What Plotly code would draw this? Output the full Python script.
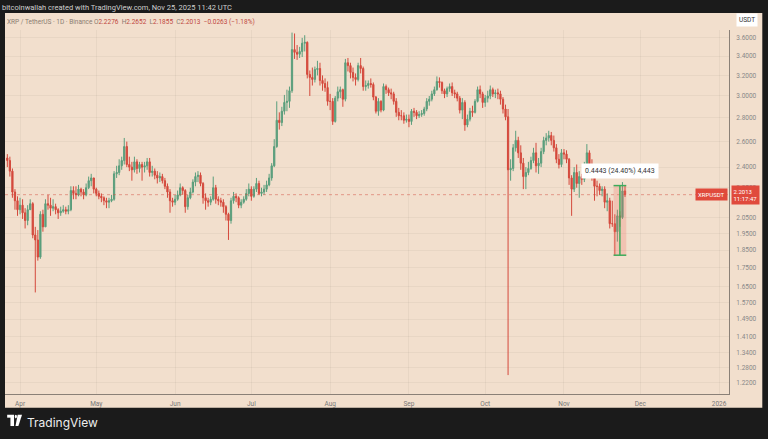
import plotly.graph_objects as go
import pandas as pd
import numpy as np

dates = pd.date_range("2025-03-27", "2025-11-25", freq="D")

closes = [2.45,2.37,2.22,2.16,2.10,
 2.13,2.08,2.03,2.10,2.14,1.94,1.91,1.81,2.07,1.99,2.14,2.13,2.11,2.12,2.10,2.08,2.09,2.10,2.09,2.10,2.23,2.21,2.20,2.24,2.22,2.20,2.25,2.30,2.32,2.24,
 2.21,2.19,2.18,2.16,2.15,2.16,2.17,2.35,2.36,2.41,2.45,2.56,2.42,2.40,2.38,2.44,2.39,2.42,2.40,2.41,2.44,2.36,2.37,2.34,2.32,2.33,2.30,2.26,2.22,2.16,2.15,
 2.17,2.20,2.25,2.23,2.12,2.18,2.22,2.29,2.33,2.34,2.28,2.18,2.16,2.15,2.17,2.25,2.17,2.16,2.15,2.12,2.07,2.03,2.16,2.19,2.18,2.13,2.15,2.17,2.21,2.24,
 2.19,2.24,2.28,2.21,2.22,2.24,2.27,2.32,2.41,2.56,2.78,2.76,2.86,2.94,2.95,3.05,3.47,3.44,3.42,3.45,3.54,3.55,3.21,3.18,3.16,3.26,3.27,3.15,3.12,3.08,2.95,
 2.95,2.77,2.98,3.04,3.06,2.97,3.33,3.30,3.23,3.18,3.16,3.30,3.27,3.09,3.10,3.12,3.11,2.99,2.86,2.95,2.87,3.09,3.06,3.03,3.02,2.95,2.85,2.82,2.82,2.78,2.79,
 2.77,2.86,2.85,2.82,2.83,2.84,2.88,2.95,2.97,3.02,3.06,3.14,3.13,3.05,3.02,3.07,3.09,3.03,3.02,2.98,2.87,2.94,2.74,2.79,2.86,2.85,2.95,3.06,3.02,2.94,
 2.98,3.00,3.06,3.02,3.03,3.02,2.97,2.88,2.81,2.38,2.39,2.55,2.61,2.51,2.43,2.33,2.36,2.39,2.45,2.51,2.41,2.43,2.52,2.61,2.63,2.65,2.61,2.55,2.46,2.42,2.51,
 2.50,2.46,2.32,2.24,2.36,2.28,2.33,2.31,2.40,2.51,2.41,2.33,2.26,2.26,2.23,2.24,2.15,2.16,2.01,2.01,1.96,2.06,2.05,2.2276,2.2013]

highs = [2.50,2.48,2.39,2.24,2.19,
 2.18,2.17,2.11,2.13,2.17,2.15,1.99,1.97,2.09,2.10,2.17,2.20,2.18,2.17,2.14,2.11,2.12,2.13,2.12,2.13,2.26,2.26,2.26,2.27,2.25,2.24,2.28,2.33,2.35,2.31,
 2.25,2.23,2.21,2.19,2.18,2.18,2.20,2.37,2.41,2.46,2.48,2.63,2.60,2.48,2.44,2.48,2.46,2.44,2.44,2.44,2.47,2.47,2.41,2.39,2.37,2.36,2.35,2.32,2.28,2.24,2.18,
 2.20,2.23,2.28,2.26,2.24,2.20,2.25,2.31,2.36,2.37,2.36,2.29,2.21,2.18,2.19,2.33,2.27,2.19,2.18,2.17,2.13,2.08,2.18,2.22,2.21,2.19,2.17,2.19,2.24,2.28,
 2.26,2.26,2.32,2.30,2.25,2.27,2.30,2.35,2.43,2.62,2.95,2.85,2.90,3.01,3.06,3.09,3.66,3.65,3.52,3.50,3.60,3.63,3.56,3.25,3.28,3.29,3.35,3.33,3.20,3.17,3.14,
 3.02,2.98,3.00,3.09,3.09,3.07,3.37,3.38,3.33,3.28,3.22,3.33,3.38,3.29,3.15,3.15,3.17,3.13,3.00,2.98,2.96,3.12,3.11,3.08,3.07,3.04,2.98,2.89,2.87,2.85,2.83,
 2.83,2.88,2.89,2.87,2.86,2.87,2.90,2.98,3.00,3.05,3.09,3.19,3.18,3.14,3.07,3.09,3.12,3.13,3.06,3.04,3.00,2.98,2.96,2.83,2.89,2.91,2.97,3.09,3.10,3.04,
 3.01,3.05,3.10,3.08,3.06,3.07,3.05,2.99,2.92,2.88,2.46,2.58,2.69,2.64,2.57,2.47,2.40,2.44,2.48,2.55,2.59,2.47,2.55,2.64,2.67,2.69,2.68,2.65,2.58,2.50,2.54,
 2.54,2.53,2.47,2.34,2.40,2.42,2.37,2.35,2.44,2.58,2.53,2.46,2.38,2.30,2.28,2.26,2.26,2.21,2.18,2.16,2.07,2.10,2.09,2.29,2.2652]

lows = [2.40,2.33,2.18,2.10,2.06,
 2.07,2.04,1.98,2.00,2.10,1.92,1.62,1.79,1.80,1.96,1.99,2.10,2.06,2.09,2.07,2.04,2.06,2.08,2.07,2.07,2.09,2.17,2.17,2.19,2.19,2.17,2.19,2.24,2.26,2.21,
 2.19,2.17,2.15,2.13,2.11,2.11,2.15,2.16,2.32,2.34,2.38,2.42,2.40,2.37,2.30,2.36,2.35,2.36,2.30,2.36,2.38,2.33,2.33,2.31,2.28,2.29,2.28,2.24,2.18,2.08,2.12,
 2.13,2.16,2.19,2.20,2.08,2.10,2.17,2.21,2.26,2.29,2.26,2.14,2.10,2.12,2.13,2.16,2.14,2.13,2.12,2.08,2.03,1.91,2.01,2.14,2.15,2.11,2.11,2.14,2.16,2.19,
 2.16,2.18,2.22,2.20,2.19,2.20,2.22,2.26,2.30,2.40,2.55,2.70,2.73,2.83,2.86,2.89,3.03,3.37,3.36,3.38,3.39,3.45,3.17,3.00,3.10,3.13,3.20,3.10,3.05,3.04,2.91,
 2.87,2.74,2.76,2.95,2.98,2.90,2.95,3.24,3.17,3.14,3.10,3.14,3.22,3.05,3.05,3.07,3.08,2.96,2.84,2.82,2.85,2.86,3.02,3.00,2.97,2.92,2.81,2.78,2.78,2.75,2.76,
 2.72,2.74,2.81,2.79,2.80,2.81,2.82,2.86,2.91,2.95,3.00,3.05,3.08,3.02,2.98,2.99,3.04,3.00,2.98,2.95,2.84,2.79,2.69,2.72,2.77,2.81,2.84,2.94,2.98,2.89,
 2.90,2.94,2.97,2.99,2.98,2.97,2.92,2.84,2.78,1.25,2.30,2.37,2.52,2.47,2.38,2.24,2.24,2.34,2.38,2.43,2.36,2.35,2.40,2.50,2.57,2.60,2.57,2.52,2.43,2.39,2.40,
 2.46,2.43,2.27,2.06,2.22,2.25,2.18,2.27,2.29,2.38,2.38,2.30,2.16,2.19,2.20,2.19,2.11,2.09,1.98,1.99,1.82,1.90,1.99,2.04,2.1855]

first_open = 2.47
opens = [first_open] + closes[:-1]

y_ticks = [3.6,3.4,3.2,3.0,2.8,2.6,2.4,2.25,2.05,1.95,1.85,1.75,1.65,1.57,1.49,1.41,1.34,1.28,1.22]
x_ticks = ["2025-04-01","2025-05-01","2025-06-01","2025-07-01","2025-08-01","2025-09-01","2025-10-01","2025-11-01","2025-12-01","2026-01-01"]
x_labels = ["Apr","May","Jun","Jul","Aug","Sep","Oct","Nov","Dec","2026"]

last = closes[-1]
meas_low, meas_high = 1.8206, 2.2649

GREEN = "#5a9e7c"; RED = "#d4493c"; BG = "#f2dfcd"

fig = go.Figure()
fig.add_trace(go.Candlestick(x=dates, open=opens, high=highs, low=lows, close=closes,
    increasing=dict(line=dict(color=GREEN, width=1), fillcolor=GREEN),
    decreasing=dict(line=dict(color=RED, width=1), fillcolor=RED),
    whiskerwidth=0, hoverinfo="skip", showlegend=False))

fig.update_layout(
    width=768, height=439, margin=dict(l=5, r=39, t=30, b=45),
    paper_bgcolor="#1b1b1b", plot_bgcolor=BG,
    xaxis=dict(type="date", range=["2025-03-26 02:00", "2026-01-04 22:00"], rangeslider=dict(visible=False),
               tickvals=x_ticks, ticktext=x_labels, tickfont=dict(size=6.5, color="#777", family="Roboto"),
               showgrid=True, gridcolor="rgba(0,0,0,0.04)", showline=True, linecolor="#8a8077", linewidth=1,
               ticks="", ticklabelstandoff=3, zeroline=False, fixedrange=True),
    yaxis=dict(type="log", side="right", range=[np.log10(1.178), np.log10(3.69)],
               tickvals=y_ticks, ticktext=[f"{v:.4f}" for v in y_ticks],
               tickfont=dict(size=6.5, color="#888", family="Roboto"),
               showgrid=True, gridcolor="rgba(0,0,0,0.04)", showline=True, linecolor="#8a8077", linewidth=1,
               ticks="", ticklabelstandoff=5, zeroline=False),
    font=dict(family="Roboto"),
)

shapes = [
    dict(type="rect", xref="paper", yref="paper", x0=0, x1=1.046, y0=-0.038, y1=1.047,
         fillcolor=BG, line=dict(width=0), layer="below"),
    dict(type="line", xref="paper", yref="y", x0=0, x1=1, y0=last, y1=last,
         line=dict(color=RED, width=0.8, dash="dot"), opacity=0.6),
    dict(type="rect", xref="x", yref="y", x0="2025-11-20 12:00", x1="2025-11-25 12:00",
         y0=meas_low, y1=meas_high, fillcolor="rgba(240,110,100,0.25)", line=dict(width=0), layer="above"),
    dict(type="line", xref="x", yref="y", x0="2025-11-20 12:00", x1="2025-11-25 12:00",
         y0=meas_low, y1=meas_low, line=dict(color="#3dab5a", width=1.5)),
    dict(type="line", xref="x", yref="y", x0="2025-11-20 12:00", x1="2025-11-25 12:00",
         y0=meas_high, y1=meas_high, line=dict(color="#3dab5a", width=1.5)),
    dict(type="line", xref="x", yref="y", x0="2025-11-23", x1="2025-11-23",
         y0=meas_low, y1=meas_high, line=dict(color="#3dab5a", width=1.5)),
    # TradingView logo pieces
    dict(type="rect", xref="paper", yref="paper", x0=0.003, x1=0.0125, y0=-0.065, y1=-0.057,
         fillcolor="white", line=dict(width=0)),
    dict(type="rect", xref="paper", yref="paper", x0=0.0075, x1=0.0125, y0=-0.088, y1=-0.06,
         fillcolor="white", line=dict(width=0)),
    dict(type="circle", xref="paper", yref="paper", x0=0.0135, x1=0.0165, y0=-0.067, y1=-0.057,
         fillcolor="white", line=dict(width=0)),
    dict(type="path", xref="paper", yref="paper", path="M 0.0175 -0.057 L 0.0235 -0.057 L 0.0185 -0.088 L 0.0145 -0.088 Z",
         fillcolor="white", line=dict(width=0)),
]
fig.update_layout(shapes=shapes)

ann = [
    dict(xref="paper", yref="paper", x=-0.007, y=1.063, xanchor="left", yanchor="middle",
         text="bitcoinwallah created with TradingView.com, Nov 25, 2025 11:42 UTC", showarrow=False,
         font=dict(size=7.5, color="#cfcfcf")),
    dict(xref="paper", yref="paper", x=0.0, y=1.022, xanchor="left", yanchor="middle", showarrow=False,
         text=("<span style='color:#8a7d72'>XRP / TetherUS · 1D · Binance </span>"
               "<span style='color:#8a7d72'>O</span><span style='color:#c0473d'>2.2276</span>  "
               "<span style='color:#8a7d72'>H</span><span style='color:#c0473d'>2.2652</span>  "
               "<span style='color:#8a7d72'>L</span><span style='color:#c0473d'>2.1855</span>  "
               "<span style='color:#8a7d72'>C</span><span style='color:#c0473d'>2.2013  −0.0263 (−1.18%)</span>"),
         font=dict(size=6.5)),
    dict(xref="paper", yref="paper", x=1.025, y=1.027, xanchor="center", yanchor="middle", showarrow=False,
         text="USDT", font=dict(size=6.5, color="#333"), bgcolor="white", borderpad=2),
    dict(xref="paper", yref="y", x=0.998, y=np.log10(last), xanchor="right", yanchor="middle", showarrow=False,
         text="XRPUSDT", font=dict(size=6, color="white"), bgcolor="#e04a3c", borderpad=2),
    dict(xref="paper", yref="y", x=1.003, y=np.log10(last), xanchor="left", yanchor="middle", showarrow=False,
         text="2.2013<br>11:17:47", font=dict(size=6, color="white"), bgcolor="#e04a3c", borderpad=1.5, align="left"),
    dict(xref="x", yref="y", x="2025-11-23", y=np.log10(2.37), xanchor="center", yanchor="middle", showarrow=False,
         text="0.4443 (24.40%) 4,443", font=dict(size=7, color="#333"), bgcolor="white", borderpad=3),
    dict(xref="paper", yref="paper", x=0.027, y=-0.078, xanchor="left", yanchor="middle", showarrow=False,
         text="TradingView", font=dict(size=12, color="#eeeeee", family="Inter")),
]
fig.update_layout(annotations=ann)

fig.write_html("out.html", config={"displayModeBar": False},
               post_script="document.body.style.margin='0';document.body.style.background='#1b1b1b';")
